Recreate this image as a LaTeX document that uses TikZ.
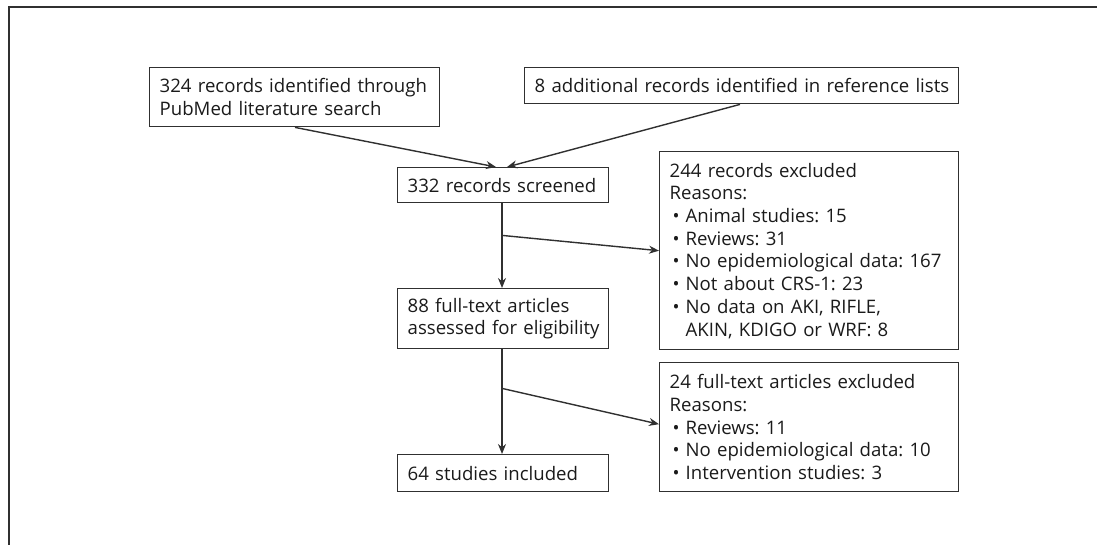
\documentclass[tikz,border=0pt]{standalone}
\usepackage{fontspec}
\setmainfont{Open Sans}
\usetikzlibrary{arrows.meta,calc}
\definecolor{ln}{HTML}{303030}
\definecolor{tx}{HTML}{1A1A1A}
\newcommand{\bul}{\hspace*{3pt}\textbullet\hspace{6pt}}
\begin{document}
\begin{tikzpicture}[x=1pt,y=-1pt,
  box/.style={draw=ln,line width=1.4pt,anchor=north west,inner xsep=10pt,inner ysep=0pt,
    align=left,text=tx,font=\fontsize{18.6}{22.7}\selectfont\frenchspacing},
  arr/.style={draw=ln,line width=1.4pt,-{Stealth[length=10pt,width=8pt]}},
  ln/.style={draw=ln,line width=1.4pt}]
\useasboundingbox (0,0) rectangle (1097,545);
\draw[ln] (9,545) -- (9,7) -- (1097,7);
\node[box,minimum width=290pt,minimum height=59pt,text width=270pt] (A) at (149,67)
  {\mbox{324 records identified through}\\\mbox{PubMed literature search}};
\node[box,minimum width=434pt,minimum height=36pt,text width=414pt] (B) at (524,67)
  {\mbox{8 additional records identified in reference lists}};
\node[box,minimum width=211pt,minimum height=35pt,text width=191pt] (S) at (397,167)
  {\mbox{332 records screened}};
\node[box,minimum width=211pt,minimum height=60pt,text width=191pt] (F) at (397,288)
  {\mbox{88 full-text articles}\\\mbox{assessed for eligibility}};
\node[box,minimum width=211pt,minimum height=37pt,text width=191pt] (I) at (397,454)
  {\mbox{64 studies included}};
\node[box,minimum width=299pt,minimum height=198pt,text width=279pt] (E1) at (659,151)
  {\mbox{244 records excluded}\\\mbox{Reasons:}\\
   \mbox{\bul Animal studies: 15}\\
   \mbox{\bul Reviews: 31}\\
   \mbox{\bul No epidemiological data: 167}\\
   \mbox{\bul Not about CRS-1: 23}\\
   \mbox{\bul No data on AKI, RIFLE,}\\
   \mbox{\hspace*{3pt}\phantom{\textbullet}\hspace{6pt}AKIN, KDIGO or WRF: 8}};
\node[box,minimum width=299pt,minimum height=129pt,text width=279pt] (E2) at (659,362)
  {\mbox{24 full-text articles excluded}\\\mbox{Reasons:}\\
   \mbox{\bul Reviews: 11}\\
   \mbox{\bul No epidemiological data: 10}\\
   \mbox{\bul Intervention studies: 3}};
\coordinate (a0) at ($(A.south west)+(146,0)$);
\coordinate (b0) at ($(B.south west)+(216,0)$);
\coordinate (s1) at ($(S.north west)+(99,0)$);
\coordinate (s2) at ($(S.north west)+(110,0)$);
\draw[arr] (a0) -- (s1);
\draw[arr] (b0) -- (s2);
\coordinate (c1) at ($(S.south west)+(105,0)$);
\coordinate (c2) at ($(c1)+(0,32)$);
\draw[arr] (c1) -- (c1 |- F.north);
\draw[arr] (c2) -- (E1.west);
\coordinate (d1) at ($(F.south west)+(105,0)$);
\coordinate (d2) at ($(d1)+(0,39)$);
\draw[arr] (d1) -- (d1 |- I.north);
\draw[arr] (d2) -- ($(E2.west)+(0,-3)$);
\end{tikzpicture}
\end{document}
